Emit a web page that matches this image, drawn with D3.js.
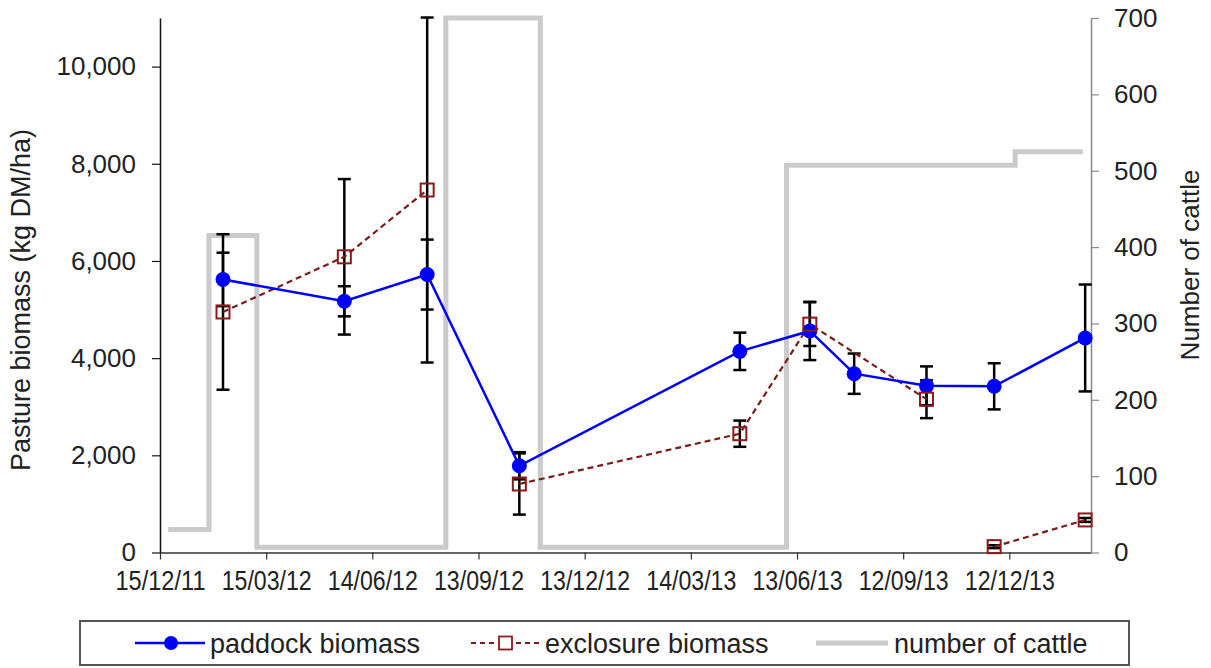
<!DOCTYPE html>
<html>
<head>
<meta charset="utf-8">
<script src="https://cdn.jsdelivr.net/npm/d3@7"></script>
<style>
  html, body { margin: 0; padding: 0; background: #fff; }
  svg { display: block; font-family: "Liberation Sans", Arial, sans-serif; }
</style>
</head>
<body>
<svg id="chart" width="1211" height="668"></svg>
<script>
// ---- data ----
const sampleDates = ["2012-02-07","2012-05-21","2012-07-31","2012-10-18","2013-04-25","2013-06-24","2013-08-01","2013-10-02","2013-11-29","2014-02-15"];
const paddockBiomass = [5620, 5170, 5720, 1785, 4140, 4560, 3680, 3430, 3420, 4415];
const paddockError   = [550, 310, 720, 280, 385, 600, 415, 400, 475, 1100];
const exclosureBiomass = [4950, 6085, 7460, 1410, 2445, 4700, null, 3155, 120, 670];
const exclosureError   = [1600, 1600, 3550, 630, 270, 450, null, 390, 30, 40];
const exclosureSegment = [1, 1, 1, 2, 2, 2, null, 2, 3, 3];
const cattleDates = ["2011-12-22","2012-01-26","2012-03-07","2012-08-16","2012-11-05","2013-06-04","2013-12-17","2014-02-13"];
const cattleCount = [30, 415, 7, 700, 7, 507, 525, 525];
const xTickLabels = ["15/12/11","15/03/12","14/06/12","13/09/12","13/12/12","14/03/13","13/06/13","12/09/13","12/12/13"];
const xStart = "2011-12-15";
const xEnd = "2014-02-20";
const leftTicks = [0, 2000, 4000, 6000, 8000, 10000];
const rightTicks = [0, 100, 200, 300, 400, 500, 600, 700];

// ---- layout ----
const parse = d3.timeParse("%Y-%m-%d");
const X0 = 160, X1 = 1091, Y0 = 552.5, Y1 = 18;
const svg = d3.select("#chart");

const x = d3.scaleTime().domain([parse(xStart), parse(xEnd)]).range([X0, X1]);
const yL = d3.scaleLinear().domain([0, 11000]).range([Y0, Y1]);
const yR = d3.scaleLinear().domain([0, 700]).range([Y0, Y1]);

const samples = sampleDates.map((d, i) => ({
  date: parse(d), p: paddockBiomass[i], pe: paddockError[i],
  e: exclosureBiomass[i], ee: exclosureError[i], seg: exclosureSegment[i]
}));
const cattle = cattleDates.map((d, i) => ({ date: parse(d), n: cattleCount[i] }));

// cattle step line
svg.append("path")
  .datum(cattle)
  .attr("fill", "none")
  .attr("stroke", "#cbcbcb")
  .attr("stroke-width", 5)
  .attr("d", d3.line().curve(d3.curveStepAfter).x(d => x(d.date)).y(d => yR(d.n)));

// axes
const tickDates = xTickLabels.map((_, i) => d3.timeDay.offset(parse(xStart), 91 * i));
const xAxis = svg.append("g").attr("transform", `translate(0,${Y0})`)
  .call(d3.axisBottom(x).tickValues(tickDates).tickFormat((d, i) => xTickLabels[i]).tickSize(7).tickSizeOuter(0));
xAxis.select(".domain").attr("stroke", "#333").attr("stroke-width", 1.5);
xAxis.selectAll(".tick line").attr("stroke", "#333").attr("stroke-width", 1.2);
xAxis.selectAll(".tick text")
  .attr("y", 0).attr("dy", 0)
  .attr("transform", "translate(0,37)")
  .attr("font-size", 27)
  .attr("fill", "#222")
  .attr("textLength", 90)
  .attr("lengthAdjust", "spacingAndGlyphs");

const yAxisL = svg.append("g").attr("transform", `translate(${X0},0)`)
  .call(d3.axisLeft(yL).tickValues(leftTicks).tickFormat(d3.format(",")).tickSize(8).tickPadding(16).tickSizeOuter(0));
yAxisL.select(".domain").attr("stroke", "#111").attr("stroke-width", 1.5);
yAxisL.selectAll(".tick line").attr("stroke", "#111").attr("stroke-width", 1.2);
yAxisL.selectAll(".tick text").attr("font-size", 26).attr("fill", "#222");

const yAxisR = svg.append("g").attr("transform", `translate(${X1},0)`)
  .call(d3.axisRight(yR).tickValues(rightTicks).tickSize(8).tickPadding(15).tickSizeOuter(0));
yAxisR.select(".domain").attr("stroke", "#888").attr("stroke-width", 1.5);
yAxisR.selectAll(".tick line").attr("stroke", "#888").attr("stroke-width", 1.2);
yAxisR.selectAll(".tick text").attr("font-size", 26).attr("fill", "#222");

// axis titles
svg.append("text")
  .attr("transform", `translate(30,300) rotate(-90)`)
  .attr("text-anchor", "middle")
  .attr("font-size", 27).attr("fill", "#222")
  .text("Pasture biomass (kg DM/ha)");
svg.append("text")
  .attr("transform", `translate(1199,265) rotate(-90)`)
  .attr("text-anchor", "middle")
  .attr("font-size", 26).attr("fill", "#222")
  .text("Number of cattle");

// error bars
function errorBars(data, valKey, errKey) {
  const g = svg.append("g").attr("stroke", "#000").attr("stroke-width", 2.5).attr("fill", "none");
  const dd = data.filter(d => d[valKey] != null && d[errKey] != null);
  g.selectAll("line.v").data(dd).join("line")
    .attr("x1", d => x(d.date)).attr("x2", d => x(d.date))
    .attr("y1", d => yL(d[valKey] + d[errKey])).attr("y2", d => yL(d[valKey] - d[errKey]));
  [1, -1].forEach(s => {
    g.selectAll(null).data(dd).join("line")
      .attr("x1", d => x(d.date) - 6.5).attr("x2", d => x(d.date) + 6.5)
      .attr("y1", d => yL(d[valKey] + s * d[errKey])).attr("y2", d => yL(d[valKey] + s * d[errKey]));
  });
}
errorBars(samples, "e", "ee");
errorBars(samples, "p", "pe");

// exclosure dashed line (segments)
const exclLine = d3.line().x(d => x(d.date)).y(d => yL(d.e));
d3.groups(samples.filter(d => d.e != null && d.seg != null), d => d.seg).forEach(([, seg]) => {
  svg.append("path").datum(seg)
    .attr("fill", "none").attr("stroke", "#7a1c1c").attr("stroke-width", 2.2)
    .attr("stroke-dasharray", "6,4")
    .attr("d", exclLine);
});

// paddock line
svg.append("path").datum(samples)
  .attr("fill", "none").attr("stroke", "#0000ff").attr("stroke-width", 2.5)
  .attr("d", d3.line().x(d => x(d.date)).y(d => yL(d.p)));

// paddock markers
svg.append("g").selectAll("circle").data(samples).join("circle")
  .attr("cx", d => x(d.date)).attr("cy", d => yL(d.p)).attr("r", 7.5)
  .attr("fill", "#0000ff");

// exclosure markers
svg.append("g").selectAll("rect").data(samples.filter(d => d.e != null)).join("rect")
  .attr("x", d => x(d.date) - 6.5).attr("y", d => yL(d.e) - 6.5)
  .attr("width", 13).attr("height", 13)
  .attr("fill", "none").attr("stroke", "#8b1a1a").attr("stroke-width", 2);

// legend
const lg = svg.append("g");
lg.append("rect").attr("x", 80).attr("y", 621).attr("width", 1049).attr("height", 44)
  .attr("fill", "#fff").attr("stroke", "#555").attr("stroke-width", 2);
const ly = 643;
const lb = 653;
lg.append("line").attr("x1", 135).attr("x2", 205).attr("y1", ly).attr("y2", ly)
  .attr("stroke", "#0000ff").attr("stroke-width", 2.5);
lg.append("circle").attr("cx", 171).attr("cy", ly).attr("r", 7).attr("fill", "#0000ff");
lg.append("text").attr("x", 210).attr("y", lb).attr("font-size", 27).attr("fill", "#222").text("paddock biomass");

lg.append("line").attr("x1", 471).attr("x2", 540).attr("y1", ly).attr("y2", ly)
  .attr("stroke", "#7a1c1c").attr("stroke-width", 2).attr("stroke-dasharray", "5,4");
lg.append("rect").attr("x", 499).attr("y", ly - 6.5).attr("width", 13).attr("height", 13)
  .attr("fill", "#fff").attr("stroke", "#8b1a1a").attr("stroke-width", 1.8);
lg.append("text").attr("x", 545).attr("y", lb).attr("font-size", 27).attr("fill", "#222").text("exclosure biomass");

lg.append("line").attr("x1", 816).attr("x2", 888).attr("y1", ly).attr("y2", ly)
  .attr("stroke", "#cbcbcb").attr("stroke-width", 5);
lg.append("text").attr("x", 894).attr("y", lb).attr("font-size", 27).attr("fill", "#222").text("number of cattle");
</script>
</body>
</html>
